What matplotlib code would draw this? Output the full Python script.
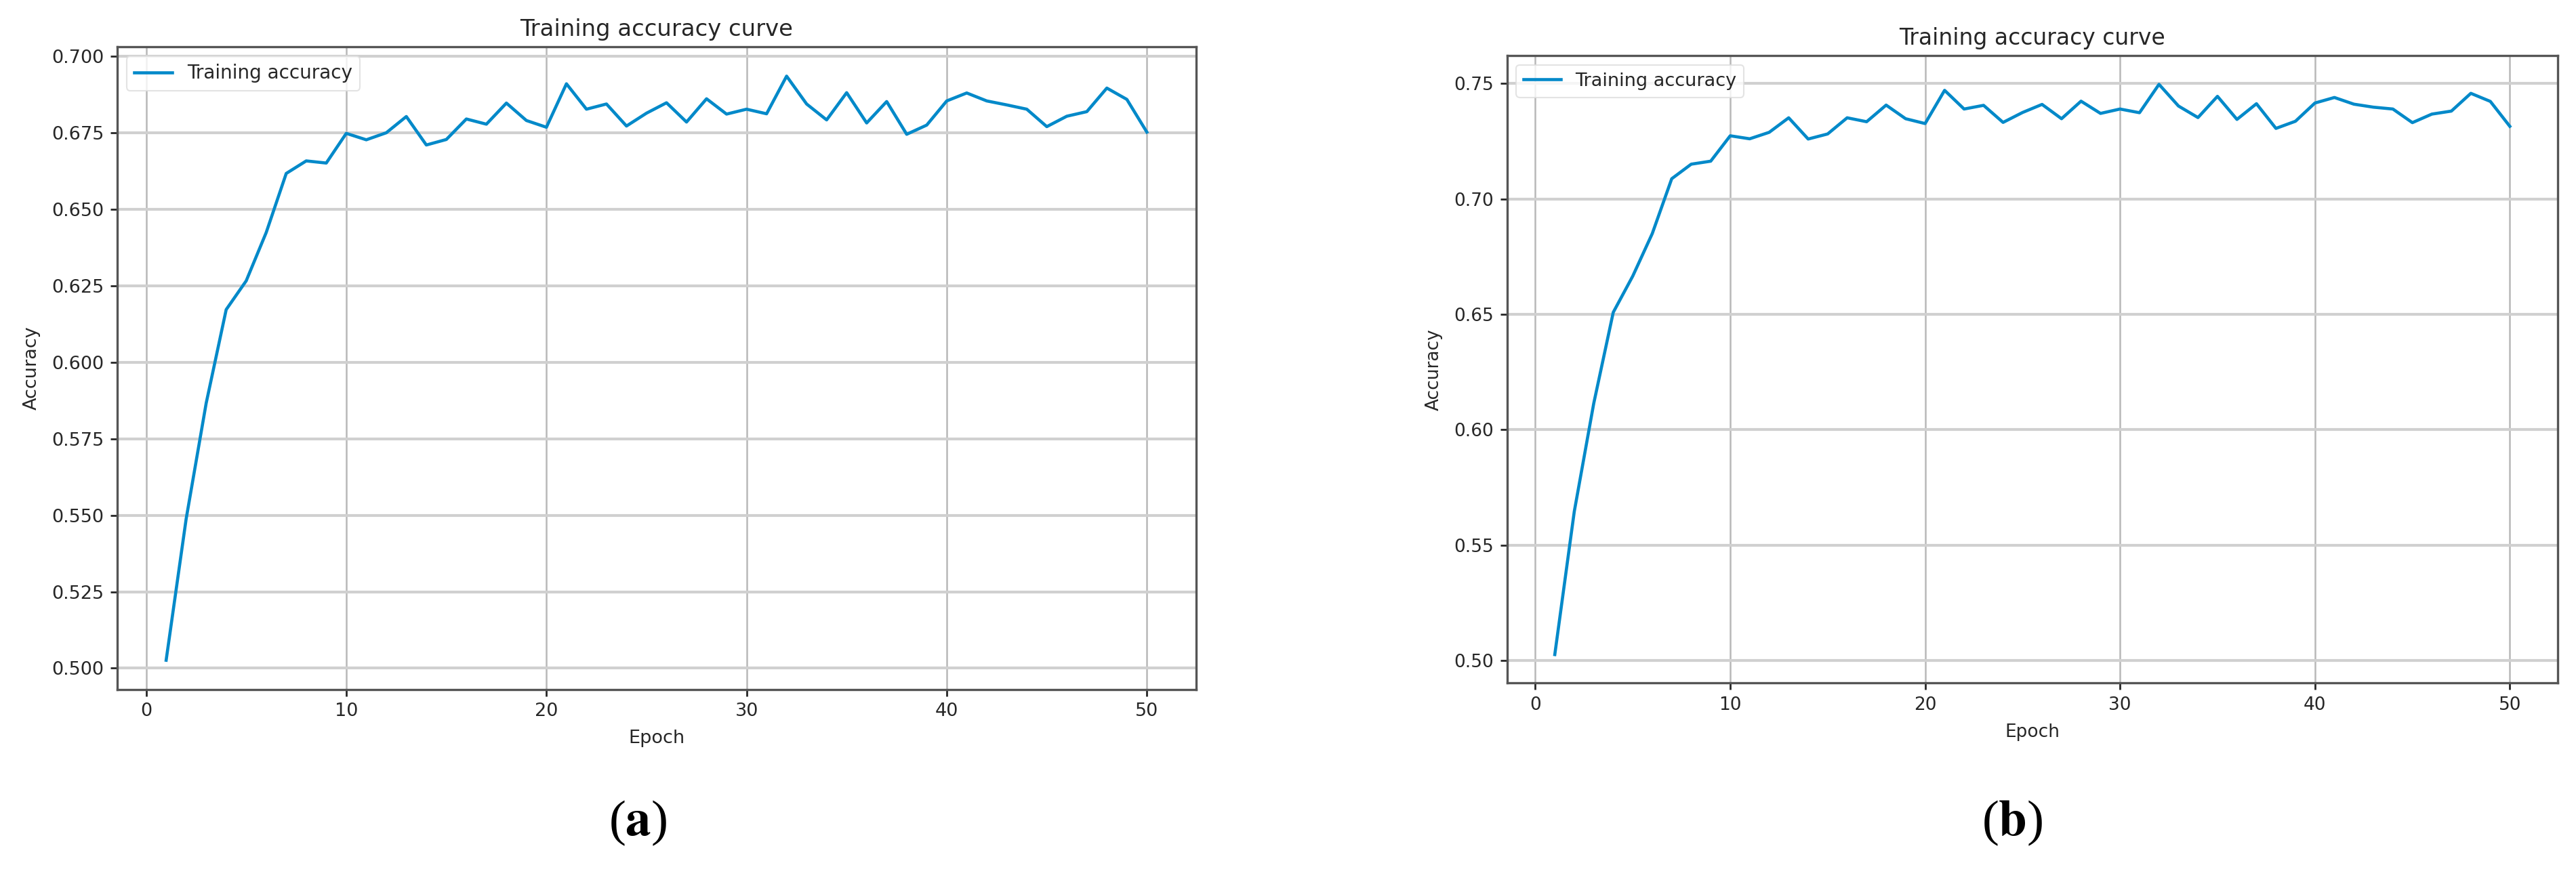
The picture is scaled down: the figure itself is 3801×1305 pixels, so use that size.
import numpy as np
import matplotlib
matplotlib.use("Agg")
from matplotlib import pyplot as plt

epochs = list(range(1, 51))

# (a) training accuracy per epoch
acc_a = [0.5026, 0.5488, 0.5866, 0.6172, 0.6266, 0.6424, 0.6617, 0.6658, 0.6651, 0.6748,
         0.6727, 0.6750, 0.6803, 0.6710, 0.6728, 0.6795, 0.6778, 0.6847, 0.6790, 0.6768,
         0.6910, 0.6827, 0.6844, 0.6772, 0.6814, 0.6848, 0.6785, 0.6861, 0.6811, 0.6827,
         0.6812, 0.6935, 0.6844, 0.6792, 0.6881, 0.6782, 0.6852, 0.6745, 0.6775, 0.6854,
         0.6880, 0.6854, 0.6841, 0.6827, 0.6770, 0.6804, 0.6819, 0.6896, 0.6859, 0.6752]

# (b) training accuracy per epoch
acc_b = [0.5026, 0.5646, 0.6115, 0.6509, 0.6666, 0.6850, 0.7088, 0.7151, 0.7164, 0.7274,
         0.7261, 0.7289, 0.7352, 0.7260, 0.7282, 0.7352, 0.7335, 0.7407, 0.7348, 0.7327,
         0.7471, 0.7390, 0.7406, 0.7332, 0.7375, 0.7410, 0.7348, 0.7424, 0.7371, 0.7390,
         0.7374, 0.7497, 0.7403, 0.7353, 0.7445, 0.7345, 0.7413, 0.7306, 0.7337, 0.7416,
         0.7440, 0.7411, 0.7398, 0.7390, 0.7331, 0.7368, 0.7381, 0.7458, 0.7423, 0.7315]

panel_labels = ['a', 'b']

line_color = '#0289c9'
text_color = '#262626'
plt.rcParams['mathtext.fontset'] = 'stix'

fig = plt.figure(figsize=(38.01, 13.05), dpi=100)

ax_a = fig.add_axes([0.04546, 0.22008, 0.41879, 0.72682])
ax_b = fig.add_axes([0.58503, 0.22728, 0.40782, 0.70958])


def draw(ax, acc, fs):
    ax.plot(epochs, acc, color=line_color, lw=3.3, label='Training accuracy')
    ax.set_title('Training accuracy curve', fontsize=fs * 1.25, color=text_color, pad=12)
    ax.set_xlabel('Epoch', fontsize=fs, color=text_color, labelpad=10)
    ax.set_ylabel('Accuracy', fontsize=fs, color=text_color, labelpad=12)
    ax.set_xticks([0, 10, 20, 30, 40, 50])
    ax.tick_params(labelsize=fs, colors=text_color, length=7, width=2, pad=7)
    ax.grid(axis='x', color='#b8b8b8', lw=1.8)
    ax.grid(axis='y', color='#d0d0d0', lw=3.0)
    for s in ax.spines.values():
        s.set_color('#555555')
        s.set_linewidth(2.4)
    leg = ax.legend(loc='upper left', fontsize=fs * 1.03, frameon=True)
    leg.get_frame().set_edgecolor('#dddddd')
    leg.get_frame().set_linewidth(1.5)
    for t in leg.get_texts():
        t.set_color(text_color)


draw(ax_a, acc_a, 19.5)
draw(ax_b, acc_b, 19)

for x, lab in zip([0.2476, 0.7811], panel_labels):
    fig.text(x, 0.069, '($\\mathbf{' + lab + '}$)', fontsize=54, family='Liberation Serif',
             ha='center', va='center', color='black')

fig.savefig('out.png', dpi=100)
